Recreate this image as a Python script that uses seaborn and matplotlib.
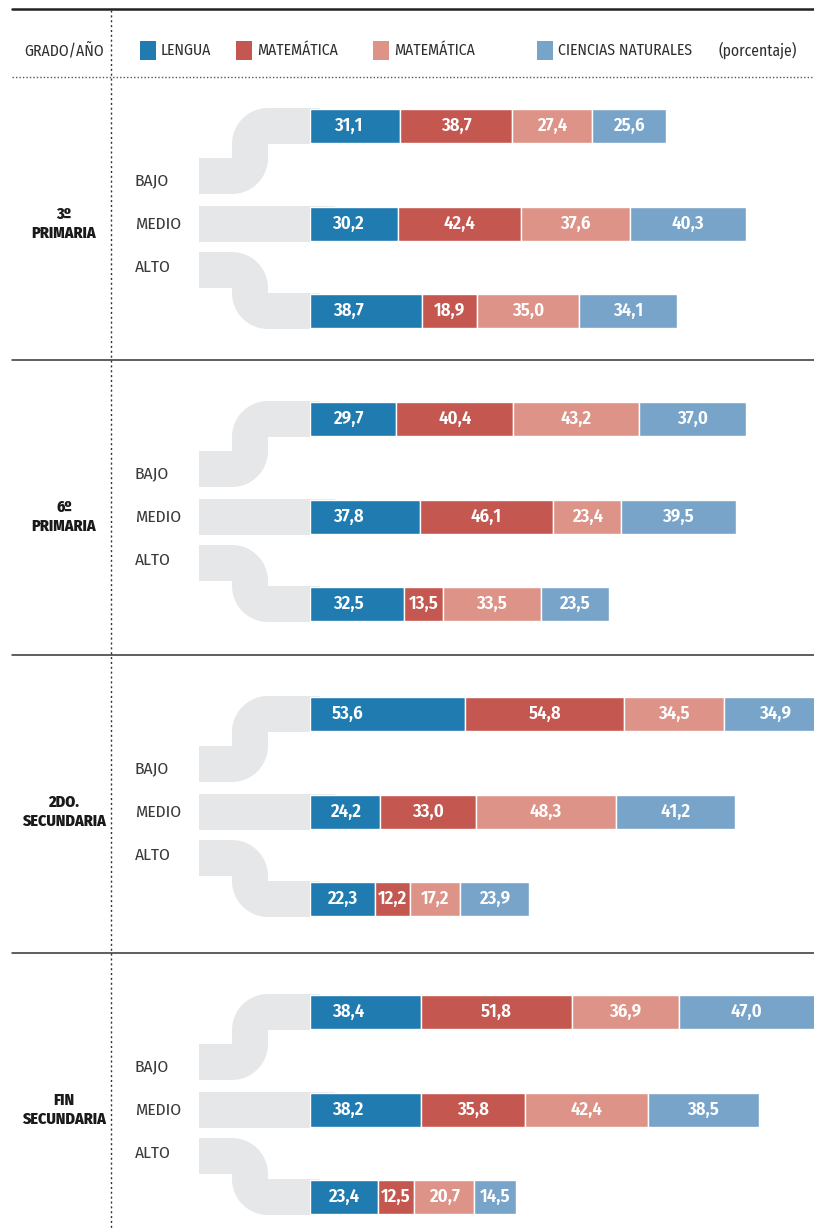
import numpy as np
import matplotlib.pyplot as plt
from matplotlib.patches import Polygon
import seaborn as sns

# Datos (porcentaje) - filas: BAJO, MEDIO, ALTO
grados = ["3º\nPRIMARIA", "6º\nPRIMARIA", "2DO.\nSECUNDARIA", "FIN\nSECUNDARIA"]
niveles = ["BAJO", "MEDIO", "ALTO"]
materias = ["LENGUA", "MATEMÁTICA", "MATEMÁTICA", "CIENCIAS NATURALES"]
colores = ["#1f7bb0", "#c4574f", "#dd9387", "#79a4ca"]

lengua = [[31.1, 30.2, 38.7], [29.7, 37.8, 32.5], [53.6, 24.2, 22.3], [38.4, 38.2, 23.4]]
matematica = [[38.7, 42.4, 18.9], [40.4, 46.1, 13.5], [54.8, 33.0, 12.2], [51.8, 35.8, 12.5]]
matematica_b = [[27.4, 37.6, 35.0], [43.2, 23.4, 33.5], [34.5, 48.3, 17.2], [36.9, 42.4, 20.7]]
ciencias = [[25.6, 40.3, 34.1], [37.0, 39.5, 23.5], [34.9, 41.2, 23.9], [47.0, 38.5, 14.5]]

sns.set_theme(style="white")
plt.rcParams['font.family'] = ['Fira Sans Condensed', 'Open Sans', 'DejaVu Sans']

W, H = 814, 1229
fig = plt.figure(figsize=(W / 100, H / 100), dpi=100)

# fondo en coordenadas de pixel
bg = fig.add_axes([0, 0, 1, 1])
bg.set_xlim(0, W)
bg.set_ylim(H, 0)
bg.set_axis_off()

gris = "#e6e7e8"
oscuro = "#2e2e2e"
t = 36
xv0, xv1 = 232, 268
n_arc = np.linspace(0, np.pi / 2, 20)


def tubo_arriba(u0, l0, x_izq=199, x_der=320):
    # tramo superior hacia la derecha, inferior hacia la izquierda
    u1, l1 = u0 + t, l0 + t
    pts = [(x_der, u0), (xv1, u0)]
    pts += [(xv1 - t * np.sin(p), u1 - t * np.cos(p)) for p in n_arc]
    pts += [(xv0, l0), (x_izq, l0), (x_izq, l1), (xv0, l1)]
    pts += [(xv0 + t * np.sin(p), l0 + t * np.cos(p)) for p in n_arc]
    pts += [(xv1, u1), (x_der, u1)]
    bg.add_patch(Polygon(pts, closed=True, color=gris, lw=0))


def tubo_abajo(u0, l0, x_izq=199, x_der=320):
    # tramo superior hacia la izquierda, inferior hacia la derecha
    u1, l1 = u0 + t, l0 + t
    pts = [(x_izq, u0), (xv0, u0)]
    pts += [(xv0 + t * np.sin(p), u1 - t * np.cos(p)) for p in n_arc]
    pts += [(xv1, l0), (x_der, l0), (x_der, l1), (xv1, l1)]
    pts += [(xv1 - t * np.sin(p), l0 + t * np.cos(p)) for p in n_arc]
    pts += [(xv0, u1), (x_izq, u1)]
    bg.add_patch(Polygon(pts, closed=True, color=gris, lw=0))


# encabezado
bg.plot([12, W], [9, 9], color="#222222", lw=1.8)
bg.plot([12, W], [77, 77], color="#555555", lw=1, ls=(0, (1, 1.5)))
bg.plot([111, 111], [10, H], color="#333333", lw=1, ls=(0, (1.5, 2)))
bg.text(64, 50, "GRADO/AÑO", ha="center", va="center", fontsize=11.3, color=oscuro)
leg_x = [140, 236, 373, 537]
for lx, m, c in zip(leg_x, materias, colores):
    bg.add_patch(plt.Rectangle((lx, 41), 16, 19, color=c, lw=0))
    bg.text(lx + 21, 50, m, ha="left", va="center", fontsize=11.3, color=oscuro)
bg.text(797, 50, "(porcentaje)", ha="right", va="center", fontsize=11.3, color=oscuro)

# ejes de barras: x en porcentaje
x0, escala = 310, 2.9
ax = fig.add_axes([x0 / W, 0, (W - x0) / W, 1])
ax.set_xlim(0, (W - x0) / escala)
ax.set_ylim(H, 0)
ax.set_axis_off()

centros = [224, 517, 812, 1110]
for g, ym in enumerate(centros):
    if g > 0:
        bg.plot([12, W], [ym - 157, ym - 157], color="#333333", lw=1.1)
    yt, yb = ym - 98, ym + 87
    filas = [yt, ym, yb]

    # conectores grises
    tubo_arriba(yt - 18, ym - 66)
    bg.add_patch(plt.Rectangle((199, ym - 18), 136, 36, color=gris, lw=0))
    tubo_abajo(ym + 28, yb - 18)

    for nv, dy in zip(niveles, [-43, 0, 43]):
        bg.text(135, ym + dy, nv, ha="left", va="center", fontsize=12.5,
                color="#3a3a3a")
    bg.text(64, ym, grados[g], ha="center", va="center", fontsize=11.5,
            fontweight="heavy", color="#1a1a1a", linespacing=1.25)

    series = [lengua[g], matematica[g], matematica_b[g], ciencias[g]]
    for r, yc in enumerate(filas):
        izq = 0
        for s, (serie, c) in enumerate(zip(series, colores)):
            v = serie[r]
            ax.barh(yc, v, left=izq, height=34, color=c, edgecolor="white", linewidth=1)
            xm = izq + min(v / 2, 13.1) if s == 0 else izq + v / 2
            ax.text(xm, yc, f"{v:.1f}".replace(".", ","), ha="center", va="center",
                    fontsize=13.5, fontweight="semibold", color="white", clip_on=True)
            izq += v

fig.savefig("out.png", dpi=100)
